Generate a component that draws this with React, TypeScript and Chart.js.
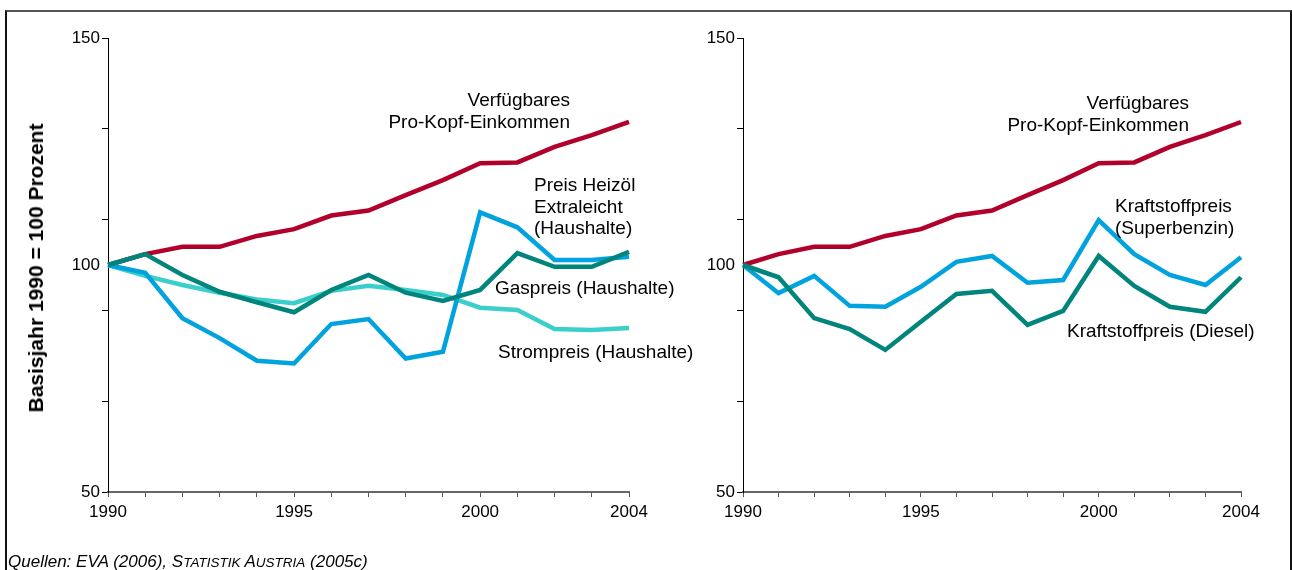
import React, { useEffect, useRef } from "react";
import { Chart, registerables } from "chart.js";

Chart.register(...registerables);

const FONT = "'Liberation Sans', Arial, Helvetica, sans-serif";

// ---- data ----
const YEARS = ["1990", "1991", "1992", "1993", "1994", "1995", "1996", "1997", "1998", "1999", "2000", "2001", "2002", "2003", "2004"];
const X_TICK_LABELS = ["1990", "1995", "2000", "2004"];
const Y_LABELS = [50, 100, 150];
const Y_TICKS = [50, 70, 90, 100, 110, 130, 150];

const EINKOMMEN = [100, 102.4, 104.0, 104.0, 106.4, 107.9, 110.9, 112.0, 115.4, 118.7, 122.4, 122.6, 126.0, 128.6, 131.5];
const HEIZOEL = [100, 98.3, 88.3, 83.9, 78.9, 78.3, 87.0, 88.1, 79.4, 80.9, 111.6, 108.3, 101.1, 101.1, 101.8];
const GAS = [100, 102.4, 97.8, 94.1, 91.8, 89.6, 94.5, 97.8, 93.9, 92.1, 94.5, 102.6, 99.6, 99.6, 102.9];
const STROM = [100, 97.6, 95.6, 93.9, 92.4, 91.6, 94.3, 95.4, 94.5, 93.4, 90.6, 90.1, 85.9, 85.7, 86.1];
const SUPERBENZIN = [100, 93.8, 97.6, 91.0, 90.8, 95.2, 100.7, 102.0, 96.1, 96.7, 109.9, 102.4, 97.8, 95.6, 101.7];
const DIESEL = [100, 97.3, 88.3, 85.9, 81.3, 87.5, 93.6, 94.3, 86.8, 89.9, 102.0, 95.4, 90.8, 89.7, 97.3];

const RED = "#B2002D";
const BLUE = "#00A3DD";
const TEAL = "#00857C";
const TURQ = "#3ACFCB";

function line(data: number[], color: string) {
  return {
    data,
    borderColor: color,
    backgroundColor: color,
    borderWidth: 4.5,
    pointRadius: 0,
    tension: 0,
    fill: false,
    borderJoinStyle: "miter" as const,
  };
}

function makeConfig(datasets: any[], padding: any) {
  return {
    type: "line" as const,
    data: { labels: YEARS, datasets },
    options: {
      animation: false,
      responsive: false,
      devicePixelRatio: 1,
      layout: { padding },
      plugins: { legend: { display: false }, tooltip: { enabled: false }, title: { display: false } },
      scales: {
        x: {
          type: "category",
          offset: false,
          grid: { drawOnChartArea: false, drawTicks: true, tickLength: 5, tickColor: "#555", tickWidth: 1 },
          border: { color: "#666", width: 2 },
          ticks: {
            autoSkip: false,
            maxRotation: 0,
            minRotation: 0,
            padding: 5,
            color: "#000",
            font: { size: 17, family: FONT },
            callback: (_v: any, i: number) => (X_TICK_LABELS.includes(YEARS[i]) ? YEARS[i] : ""),
          },
          afterFit: (s: any) => {
            s.height = 40;
          },
        },
        y: {
          type: "linear",
          min: 50,
          max: 150,
          afterBuildTicks: (s: any) => {
            s.ticks = Y_TICKS.map((v) => ({ value: v }));
          },
          grid: {
            drawOnChartArea: false,
            drawTicks: true,
            tickLength: 6,
            tickWidth: 1,
            tickColor: (ctx: any) => (ctx.tick && ctx.tick.value === 100 ? "rgba(0,0,0,0)" : "#000"),
          },
          border: { color: "#000", width: 1 },
          ticks: {
            padding: 2,
            color: "#000",
            font: { size: 17, family: FONT },
            callback: (v: any) => (Y_LABELS.includes(v) ? String(v) : ""),
          },
          afterFit: (s: any) => {
            s.width = 40;
          },
        },
      },
    },
  };
}

function ChartCanvas(props: { datasets: any[]; padding: any; left: number; width: number }) {
  const ref = useRef<HTMLCanvasElement | null>(null);
  useEffect(() => {
    if (!ref.current) return;
    const chart = new Chart(ref.current, makeConfig(props.datasets, props.padding) as any);
    return () => chart.destroy();
  }, []);
  return (
    <canvas
      ref={ref}
      width={props.width}
      height={570}
      style={{ position: "absolute", left: props.left, top: 0, width: props.width, height: 570 }}
    />
  );
}

function Label(props: { lines: string[]; x: number; y: number; align: "left" | "right" }) {
  const lh = 21.5;
  const style: any = {
    position: "absolute",
    top: props.y - lh / 2,
    fontFamily: FONT,
    fontSize: 19,
    lineHeight: lh + "px",
    color: "#000",
    whiteSpace: "nowrap",
    textAlign: props.align,
  };
  if (props.align === "left") style.left = props.x;
  else style.right = 1292 - props.x;
  return (
    <div style={style}>
      {props.lines.map((l, i) => (
        <div key={i}>{l}</div>
      ))}
    </div>
  );
}

function SmallCaps(props: { text: string }) {
  // first letter of each word full size, the rest as smaller capitals
  const words = props.text.split(" ");
  return (
    <>
      {words.map((w, i) => (
        <React.Fragment key={i}>
          {i > 0 ? " " : ""}
          {w.charAt(0).toUpperCase()}
          <span style={{ fontSize: 13.5 }}>{w.slice(1).toUpperCase()}</span>
        </React.Fragment>
      ))}
    </>
  );
}

export default function App() {
  const leftSets = [line(GAS, TEAL), line(HEIZOEL, BLUE), line(STROM, TURQ), line(EINKOMMEN, RED)];
  const rightSets = [line(DIESEL, TEAL), line(SUPERBENZIN, BLUE), line(EINKOMMEN, RED)];
  return (
    <div style={{ position: "absolute", left: 0, top: 0, width: 1292, height: 570, background: "#fff", overflow: "hidden" }}>
      <div
        style={{
          position: "absolute",
          left: 5,
          top: 10,
          width: 1283,
          height: 600,
          borderTop: "2px solid #555",
          borderLeft: "2px solid #111",
          borderRight: "2px solid #111",
        }}
      />
      <ChartCanvas datasets={leftSets} padding={{ left: 68, right: 31, top: 38, bottom: 38 }} left={0} width={660} />
      <ChartCanvas datasets={rightSets} padding={{ left: 53, right: 51, top: 38, bottom: 38 }} left={650} width={642} />
      <div
        style={{
          position: "absolute",
          left: 36,
          top: 268,
          transform: "translate(-50%, -50%) rotate(-90deg)",
          fontFamily: FONT,
          fontWeight: "bold",
          fontSize: 21,
          whiteSpace: "nowrap",
          color: "#000",
        }}
      >
        Basisjahr 1990 = 100 Prozent
      </div>
      <Label lines={["Verfügbares", "Pro-Kopf-Einkommen"]} x={570} y={100} align="right" />
      <Label lines={["Preis Heizöl", "Extraleicht", "(Haushalte)"]} x={534} y={185} align="left" />
      <Label lines={["Gaspreis (Haushalte)"]} x={495} y={288} align="left" />
      <Label lines={["Strompreis (Haushalte)"]} x={498} y={352} align="left" />
      <Label lines={["Verfügbares", "Pro-Kopf-Einkommen"]} x={1189} y={103} align="right" />
      <Label lines={["Kraftstoffpreis", "(Superbenzin)"]} x={1115} y={206} align="left" />
      <Label lines={["Kraftstoffpreis (Diesel)"]} x={1067} y={331} align="left" />
      <div
        style={{
          position: "absolute",
          left: 8,
          top: 552,
          fontFamily: FONT,
          fontStyle: "italic",
          fontSize: 17,
          lineHeight: "20px",
          whiteSpace: "nowrap",
          color: "#000",
        }}
      >
        Quellen: EVA (2006), <SmallCaps text="Statistik Austria" /> (2005c)
      </div>
    </div>
  );
}
